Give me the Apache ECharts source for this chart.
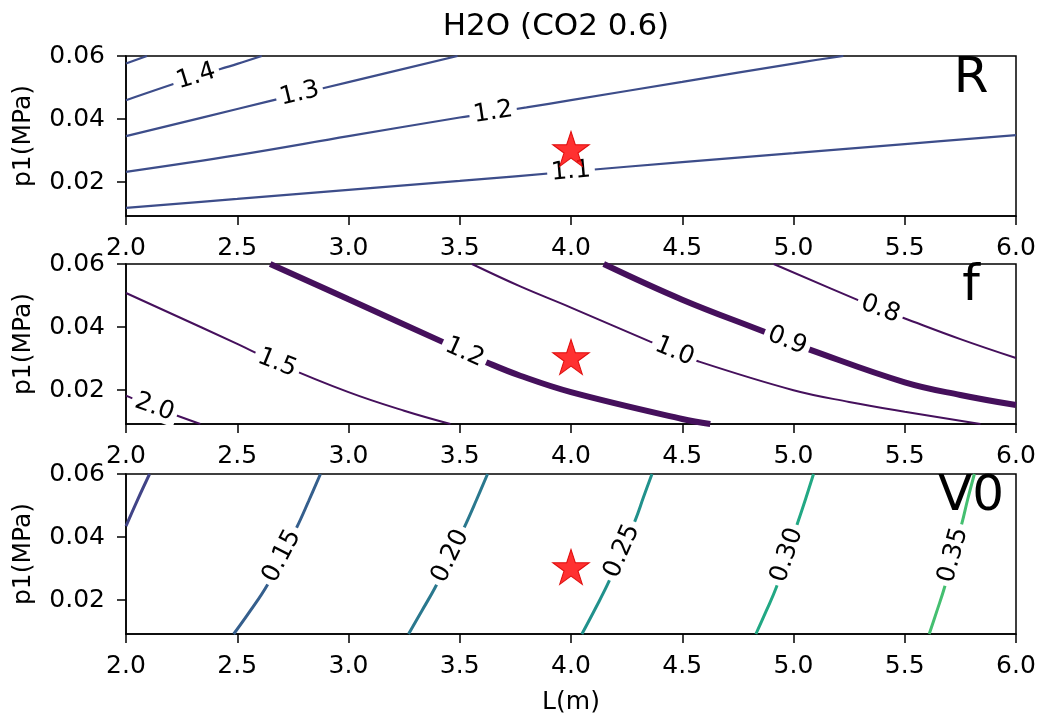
<!DOCTYPE html>
<html><head><meta charset="utf-8">
<script src="https://cdn.jsdelivr.net/npm/echarts@6/dist/echarts.min.js"></script>
<style>html,body{margin:0;padding:0;background:#fff}#c{width:1039px;height:715px}</style>
</head><body><div id="c"></div>
<script>
// ---------------- data ----------------
const TITLE = 'H2O (CO2 0.6)';
const PANEL_NAMES = ['R', 'f', 'V0'];
const X_NAME = 'L(m)';
const Y_NAME = 'p1(MPa)';
const L_RANGE = [2.0, 6.0];
const L_STEP = 0.5;
const P_RANGE = [0.0093, 0.06];
const P_TICKS = [0.02, 0.04, 0.06];
const STAR = [4.0, 0.03];

// R panel contours
const R_LEVELS = ['1.1', '1.2', '1.3', '1.4', '1.5'];
const R_1_1 = [[2.0,0.0119],[2.5,0.0147],[3.0,0.0176],[3.5,0.0204],[4.0,0.0234],[4.5,0.0264],[5.0,0.0292],[5.5,0.0321],[6.0,0.0349]];
const R_1_2 = [[2.0,0.0233],[2.5,0.0286],[3.0,0.0346],[3.5,0.0405],[3.65,0.0421],[3.8,0.0437],[4.0,0.046],[4.5,0.0518],[5.0,0.0576],[5.224,0.06]];
const R_1_3 = [[2.0,0.0346],[2.5,0.0432],[2.78,0.048],[3.0,0.0517],[3.49,0.06]];
const R_1_4 = [[2.0,0.046],[2.315,0.0535],[2.5,0.0575],[2.61,0.06]];
const R_1_5 = [[2.0,0.0576],[2.094,0.06]];
const R_LABEL_AT = [[4.0,0.0234],[3.65,0.0421],[2.78,0.048],[2.315,0.0535],null];

// f panel contours
const F_LEVELS = ['2.0', '1.5', '1.2', '1.0', '0.9', '0.8'];
const F_2_0 = [[2.0,0.0183],[2.128,0.0146],[2.334,0.0093]];
const F_1_5 = [[2.0,0.0508],[2.5,0.0347],[2.679,0.0286],[3.0,0.0194],[3.25,0.0135],[3.458,0.0093]];
const F_1_2 = [[2.648,0.06],[3.0,0.0488],[3.42,0.0354],[3.521,0.032],[3.622,0.0288],[3.772,0.0246],[4.0,0.0194],[4.5,0.0109],[4.626,0.0093]];
const F_1_0 = [[3.555,0.06],[3.772,0.0529],[4.0,0.0462],[4.356,0.0354],[4.465,0.0323],[4.574,0.0291],[5.0,0.02],[5.25,0.0163],[5.5,0.0132],[5.84,0.0093]];
const F_0_9 = [[4.147,0.06],[4.5,0.0487],[4.866,0.0386],[4.971,0.0357],[5.076,0.0328],[5.5,0.0225],[5.75,0.0185],[6.0,0.0153]];
const F_0_8 = [[4.911,0.06],[5.285,0.0487],[5.39,0.0457],[5.495,0.0429],[5.75,0.0362],[6.0,0.0302]];
const F_LABEL_AT = [[2.128,0.0146],[2.679,0.0286],[3.521,0.032],[4.465,0.0323],[4.971,0.0357],[5.39,0.0457]];
const F_THICK = [false, false, true, false, true, false];

// V0 panel contours
const V_LEVELS = ['0.10', '0.15', '0.20', '0.25', '0.30', '0.35'];
const V_0_10 = [[2.0,0.0435],[2.05,0.0515],[2.106,0.06]];
const V_0_15 = [[2.484,0.0093],[2.559,0.0167],[2.634,0.0247],[2.701,0.034],[2.769,0.0433],[2.822,0.0516],[2.874,0.06]];
const V_0_20 = [[3.27,0.0093],[3.33,0.0167],[3.39,0.0241],[3.458,0.034],[3.525,0.0438],[3.574,0.0516],[3.625,0.06]];
const V_0_25 = [[4.049,0.0093],[4.109,0.0173],[4.169,0.0257],[4.229,0.0356],[4.289,0.0454],[4.326,0.0527],[4.364,0.06]];
const V_0_30 = [[4.831,0.0093],[4.878,0.0167],[4.923,0.0241],[4.971,0.0343],[5.018,0.0444],[5.054,0.052],[5.09,0.06]];
const V_0_35 = [[5.61,0.0093],[5.645,0.0167],[5.679,0.0241],[5.718,0.0343],[5.757,0.0444],[5.783,0.052],[5.813,0.06]];
const V_LABEL_AT = [null,[2.701,0.034],[3.458,0.034],[4.229,0.0356],[4.971,0.0343],[5.718,0.0343]];

// ---------------- styles ----------------
const FONT = 'DejaVu Sans';
const FS = 25;
const R_COLOR = '#3d4d8a';
const F_COLOR = '#45105c';
const V_COLORS = ['#414487', '#355f8d', '#2a788e', '#21918c', '#22a884', '#44bf70'];
const GRIDS = [{top:56},{top:264},{top:474}];
const STAR_PATH = 'path://M0,-1L0.2245,-0.309L0.951,-0.309L0.363,0.118L0.588,0.809L0,0.382L-0.588,0.809L-0.363,0.118L-0.951,-0.309L-0.2245,-0.309Z';

const panels = [
  {lines:[R_1_1,R_1_2,R_1_3,R_1_4,R_1_5], levels:R_LEVELS, labelAt:R_LABEL_AT,
   color:()=>R_COLOR, width:()=>2.2},
  {lines:[F_2_0,F_1_5,F_1_2,F_1_0,F_0_9,F_0_8], levels:F_LEVELS, labelAt:F_LABEL_AT,
   color:()=>F_COLOR, width:(i)=>F_THICK[i]?6:2},
  {lines:[V_0_10,V_0_15,V_0_20,V_0_25,V_0_30,V_0_35], levels:V_LEVELS, labelAt:V_LABEL_AT,
   color:(i)=>V_COLORS[i], width:()=>3}
];

const grid = GRIDS.map(g => ({left:126, width:890, top:g.top, height:160, show:true,
  borderColor:'#000', borderWidth:1.5, backgroundColor:'transparent', containLabel:false, outerBoundsMode:'none'}));

const txt = {fontFamily:FONT, fontSize:FS, color:'#000'};

const xAxis = GRIDS.map((g,i) => ({
  gridIndex:i, type:'value', min:L_RANGE[0], max:L_RANGE[1], interval:L_STEP,
  axisLine:{show:true, onZero:false, lineStyle:{color:'#000', width:1.5}},
  axisTick:{show:true, length:9, lineStyle:{color:'#000', width:1.5}},
  axisLabel:Object.assign({margin:20, formatter:v=>v.toFixed(1), showMinLabel:true, showMaxLabel:true}, txt),
  splitLine:{show:false},
  name: i===2 ? X_NAME : '', nameLocation:'middle', nameGap:56,
  nameTextStyle: txt
}));
const yAxis = GRIDS.map((g,i) => ({
  gridIndex:i, type:'value', min:P_RANGE[0], max:P_RANGE[1],
  axisLine:{show:true, onZero:false, lineStyle:{color:'#000', width:1.5}},
  axisTick:{show:true, length:9, customValues:P_TICKS, lineStyle:{color:'#000', width:1.5}},
  axisLabel:Object.assign({margin:21, customValues:P_TICKS, formatter:v=>v.toFixed(2)}, txt),
  splitLine:{show:false},
  name: Y_NAME, nameLocation:'middle', nameGap:90,
  nameTextStyle: txt
}));

const series = [];
panels.forEach((p, g) => {
  p.lines.forEach((ln, i) => {
    series.push({type:'line', xAxisIndex:g, yAxisIndex:g, data:ln, showSymbol:false, symbol:'none',
      smooth:0.4, clip:true, z:2, silent:true,
      lineStyle:{color:p.color(i), width:p.width(i)}});
  });
  const lab = [];
  p.labelAt.forEach((pos, i) => {
    if (!pos) return;
    lab.push({value:pos, label:{formatter:p.levels[i], rotate:0}});
  });
  series.push({id:'lab'+g, type:'scatter', xAxisIndex:g, yAxisIndex:g, data:lab, symbolSize:2,
    itemStyle:{color:'rgba(0,0,0,0)', opacity:1}, z:3, silent:true,
    label:{show:true, position:'inside', fontFamily:FONT, fontSize:FS, color:'#000', opacity:1,
      backgroundColor:'#fff', padding:[0,4]}});
  series.push({type:'scatter', xAxisIndex:g, yAxisIndex:g, data:[STAR], symbol:STAR_PATH,
    symbolSize:[36.7,35], symbolOffset:[0,-1.8], z:5, silent:true,
    itemStyle:{color:'rgba(255,20,20,0.88)', borderColor:'rgba(220,0,0,0.9)', borderWidth:1, opacity:1}});
});

const graphic = [
  {type:'text', x:556, y:26.5, z:10, style:{text:TITLE, font:'31px "DejaVu Sans"', fill:'#000', textAlign:'center', textVerticalAlign:'middle'}}
];
PANEL_NAMES.forEach((n, g) => {
  graphic.push({type:'text', x:971, y:GRIDS[g].top+23, z:0,
    style:{text:n, font:'50px "DejaVu Sans"', fill:'#000', textAlign:'center', textVerticalAlign:'middle'}});
});

const chart = echarts.init(document.getElementById('c'), null, {renderer:'canvas'});
chart.setOption({animation:false, backgroundColor:'#fff', grid, xAxis, yAxis, series, graphic});

// rotate contour labels along the local line direction
const updates = [];
panels.forEach((p, g) => {
  const data = [];
  p.labelAt.forEach((pos, i) => {
    if (!pos) return;
    const ln = p.lines[i];
    let k = 0;
    for (let j = 0; j < ln.length - 1; j++) {
      const a = Math.min(ln[j][0], ln[j+1][0]), b = Math.max(ln[j][0], ln[j+1][0]);
      k = j;
      if (pos[0] >= a && pos[0] < b) break;
    }
    const a = chart.convertToPixel({xAxisIndex:g, yAxisIndex:g}, ln[k]);
    const b = chart.convertToPixel({xAxisIndex:g, yAxisIndex:g}, ln[Math.min(ln.length-1, k+1)]);
    let ang = -Math.atan2(b[1]-a[1], b[0]-a[0]) * 180 / Math.PI;
    if (ang > 90) ang -= 180;
    if (ang < -90) ang += 180;
    data.push({value:pos, label:{formatter:p.levels[i], rotate:ang}});
  });
  updates.push({id:'lab'+g, data});
});
chart.setOption({series:updates});
</script>
</body></html>
